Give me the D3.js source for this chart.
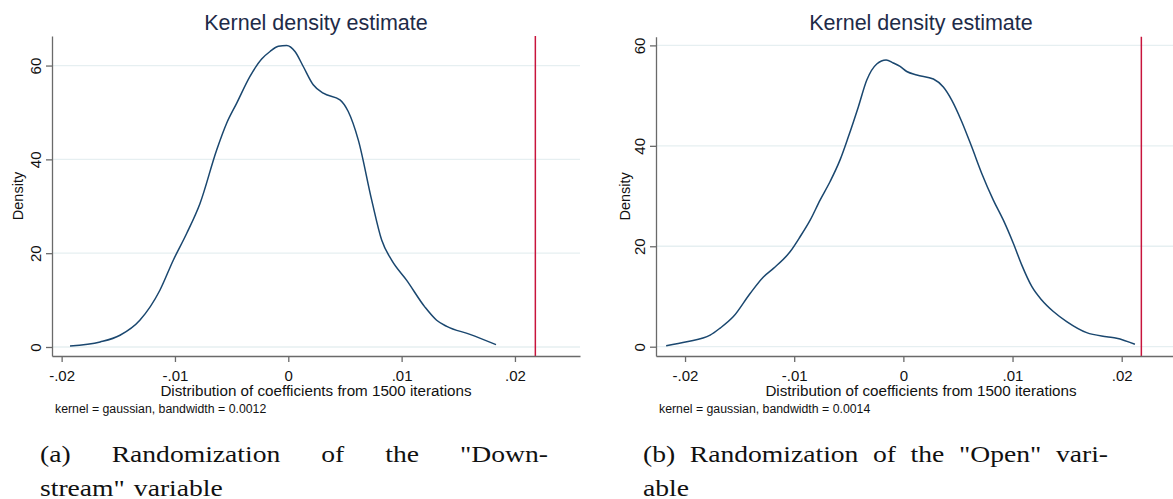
<!DOCTYPE html>
<html>
<head>
<meta charset="utf-8">
<script src="https://cdn.jsdelivr.net/npm/d3@7"></script>
<style>
  html, body { margin: 0; padding: 0; background: #fff; }
  svg { display: block; }
</style>
</head>
<body>
<svg id="chart" width="1173" height="499"></svg>
<script>
// ---------- data ----------
const xTicks = [-0.02, -0.01, 0, 0.01, 0.02];
const xTickLabels = ["-.02", "-.01", "0", ".01", ".02"];
const yTicks = [0, 20, 40, 60];
const yTickLabels = ["0", "20", "40", "60"];

const titleText = "Kernel density estimate";
const xTitle = "Distribution of coefficients from 1500 iterations";
const yTitle = "Density";

// Panel (a): Downstream
const downCoef = [-0.01926, -0.0166, -0.01485, -0.0131, -0.01133, -0.01015, -0.00897, -0.00779,
  -0.00632, -0.00544, -0.00455, -0.00338, -0.00235, -0.00161, -0.00088, -0.00014, 0.00059,
  0.00132, 0.0022, 0.00309, 0.00456, 0.00529, 0.00618, 0.00736, 0.00824, 0.00912, 0.01045,
  0.01206, 0.01309, 0.01398, 0.01603, 0.01833];
const downDensity = [0.2, 1.07, 2.5, 5.7, 12.1, 18.5, 24.2, 30.6,
  42.0, 47.7, 52.0, 57.7, 61.4, 63.0, 64.1, 64.3, 63.0,
  59.8, 55.9, 54.1, 52.7, 50.2, 44.1, 31.3, 22.8, 18.5, 14.2,
  8.5, 5.7, 4.4, 2.7, 0.5];
const downActual = 0.0218;
const downNote = "kernel = gaussian, bandwidth = 0.0012";

// Panel (b): Open
const openCoef = [-0.02173, -0.01984, -0.0177, -0.01679, -0.01557, -0.01404, -0.01282, -0.0119,
  -0.01038, -0.00946, -0.00854, -0.00763, -0.00671, -0.0058, -0.00504, -0.00412, -0.00335,
  -0.00244, -0.00158, -0.00092, -0.0003, 0.00031, 0.00123, 0.00275, 0.00366, 0.00443, 0.00535,
  0.00626, 0.00718, 0.00824, 0.00916, 0.01007, 0.01084, 0.01176, 0.01267, 0.01374, 0.01496,
  0.01679, 0.01862, 0.01954, 0.02121];
const openDensity = [0.2, 1.0, 2.3, 3.7, 6.0, 10.6, 13.9, 15.6,
  18.9, 21.9, 25.2, 29.2, 32.9, 37.2, 41.8, 47.8, 53.1,
  56.3, 57.1, 56.5, 55.8, 54.8, 54.1, 53.3, 51.7, 49.1, 44.8,
  39.8, 34.5, 29.2, 25.2, 20.6, 16.3, 12.0, 9.3, 7.0, 5.0,
  2.8, 2.0, 1.7, 0.5];
const openActual = 0.0218;
const openNote = "kernel = gaussian, bandwidth = 0.0014";

const captionA = [["(a)", "Randomization", "of", "the", "\"Down-"], ["stream\"", "variable"]];
const captionB = [["(b)", "Randomization", "of", "the", "\"Open\"", "vari-"], ["able"]];

// ---------- layout ----------
const panels = [
  { coef: downCoef, dens: downDensity, actual: downActual, note: downNote, caption: captionA,
    xDomain: [-0.02085, 0.02574], yDomain: [-1.92, 66.3],
    left: 52, right: 580, top: 36, bottom: 356,
    yTitleX: 23.3, noteX: 55, capX0: 40, capX1: 548 },
  { coef: openCoef, dens: openDensity, actual: openActual, note: openNote, caption: captionB,
    xDomain: [-0.02266, 0.02589], yDomain: [-1.85, 61.73],
    left: 656, right: 1186, top: 36.7, bottom: 356,
    yTitleX: 630, noteX: 659, capX0: 643, capX1: 1108 }
];

const SANS = "'Liberation Sans', Arial, Helvetica, sans-serif";
const SERIF = "'Liberation Serif', 'Times New Roman', serif";
const svg = d3.select("#chart");

panels.forEach(p => {
  const x = d3.scaleLinear().domain(p.xDomain).range([p.left, p.right]);
  const y = d3.scaleLinear().domain(p.yDomain).range([p.bottom, p.top]);
  const g = svg.append("g");
  const cx = (p.left + p.right) / 2;

  // gridlines
  g.append("g").selectAll("line").data(yTicks).join("line")
    .attr("x1", p.left).attr("x2", p.right)
    .attr("y1", d => y(d)).attr("y2", d => y(d))
    .attr("stroke", "#e6eff1").attr("stroke-width", 1.3);

  // density curve
  const pts = p.coef.map((c, i) => [c, p.dens[i]]);
  g.append("path").datum(pts)
    .attr("fill", "none").attr("stroke", "#1a476f").attr("stroke-width", 1.5)
    .attr("stroke-linejoin", "round")
    .attr("d", d3.line().x(d => x(d[0])).y(d => y(d[1])).curve(d3.curveMonotoneX));

  // actual coefficient line
  g.append("line")
    .attr("x1", x(p.actual)).attr("x2", x(p.actual))
    .attr("y1", p.top).attr("y2", p.bottom)
    .attr("stroke", "#c8143c").attr("stroke-width", 1.5);

  // x axis
  const xa = g.append("g").attr("transform", `translate(0,${p.bottom})`)
    .call(d3.axisBottom(x).tickValues(xTicks).tickSizeInner(6).tickSizeOuter(0)
      .tickFormat((d, i) => xTickLabels[i]));
  xa.select(".domain").attr("stroke", "#6a6a6a").attr("stroke-width", 1.3);
  xa.selectAll(".tick line").attr("stroke", "#6a6a6a").attr("stroke-width", 1.3);
  xa.selectAll(".tick text").attr("y", 25).attr("dy", null)
    .attr("font-family", SANS).attr("font-size", 15).attr("fill", "#111");

  // y axis
  const ya = g.append("g").attr("transform", `translate(${p.left},0)`)
    .call(d3.axisLeft(y).tickValues(yTicks).tickSizeInner(6).tickSizeOuter(0)
      .tickFormat((d, i) => yTickLabels[i]));
  ya.select(".domain").attr("stroke", "#6a6a6a").attr("stroke-width", 1.3);
  ya.selectAll(".tick line").attr("stroke", "#6a6a6a").attr("stroke-width", 1.3);
  ya.selectAll(".tick text").attr("x", null).attr("dy", null)
    .attr("transform", "translate(-11.3,0) rotate(-90)")
    .attr("text-anchor", "middle")
    .attr("font-family", SANS).attr("font-size", 15).attr("fill", "#111");

  // titles
  g.append("text").attr("x", cx).attr("y", 30).attr("text-anchor", "middle")
    .attr("font-family", SANS).attr("font-size", 21.5).attr("fill", "#1e2b48").text(titleText);
  g.append("text").attr("x", cx).attr("y", 395.5).attr("text-anchor", "middle")
    .attr("font-family", SANS).attr("font-size", 15.2).attr("fill", "#111").text(xTitle);
  g.append("text").attr("transform", `translate(${p.yTitleX},${(p.top + p.bottom) / 2}) rotate(-90)`)
    .attr("text-anchor", "middle")
    .attr("font-family", SANS).attr("font-size", 14.5).attr("fill", "#111").text(yTitle);
  g.append("text").attr("x", p.noteX).attr("y", 412.5)
    .attr("font-family", SANS).attr("font-size", 12.3).attr("fill", "#111").text(p.note);

  // caption (justified like LaTeX)
  const SX = 1.15, FS = 24, baselines = [461.5, 495.5];
  p.caption.forEach((words, li) => {
    const items = words.map(w => {
      const t = svg.append("text").attr("y", baselines[li])
        .attr("font-family", SERIF).attr("font-size", FS).attr("fill", "#111").text(w);
      const nat = t.node().getComputedTextLength();
      const wdt = nat * SX;
      t.attr("textLength", wdt).attr("lengthAdjust", "spacingAndGlyphs");
      return { t, wdt };
    });
    const total = d3.sum(items, d => d.wdt);
    const justify = li === 0 && items.length > 1;
    const gap = justify ? (p.capX1 - p.capX0 - total) / (items.length - 1) : 9;
    let cur = p.capX0;
    items.forEach(it => { it.t.attr("x", cur); cur += it.wdt + gap; });
  });
});
</script>
</body>
</html>
